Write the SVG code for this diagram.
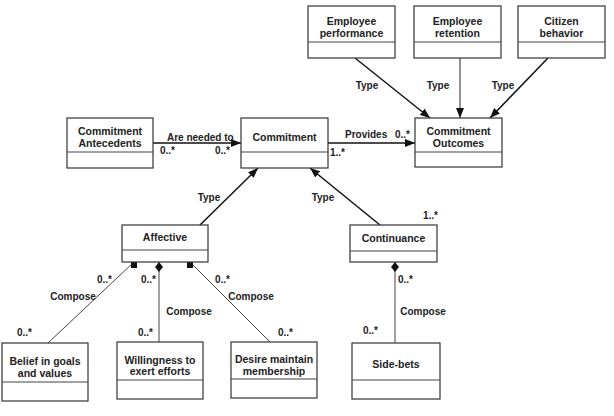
<svg xmlns="http://www.w3.org/2000/svg" width="614" height="416" viewBox="0 0 614 416">
<style>
.box{fill:#fff;stroke:#333;stroke-width:1.2}
.div{stroke:#444;stroke-width:1}
text{font-family:"Liberation Sans",Arial,sans-serif;font-weight:bold;font-size:10.5px;fill:#222}
.t{text-anchor:middle}
.lab{font-size:10px}
.arr{stroke:#111;stroke-width:1.5;fill:none}
.thin{stroke:#222;stroke-width:1;fill:none}
.comp{stroke:#444;stroke-width:1;fill:none}
</style>
<defs>
<marker id="ah" viewBox="0 0 10 8" refX="10" refY="4" markerWidth="10" markerHeight="8" markerUnits="userSpaceOnUse" orient="auto"><path d="M0,0L10,4L0,8Z" fill="#111"/></marker>
<marker id="sq" viewBox="0 0 6 6" refX="3" refY="0" markerWidth="6" markerHeight="6" markerUnits="userSpaceOnUse" orient="0"><rect width="6" height="6" fill="#111"/></marker>
<marker id="dm" viewBox="0 0 8 10" refX="4" refY="0" markerWidth="8" markerHeight="10" markerUnits="userSpaceOnUse" orient="0"><path d="M4,0L8,5L4,10L0,5Z" fill="#111"/></marker>
</defs>
<rect width="614" height="416" fill="#fff"/>
<g id="connectors">
<line class="arr" x1="153" y1="143" x2="241" y2="143" marker-end="url(#ah)"/>
<line class="arr" x1="328" y1="143" x2="415" y2="143" marker-end="url(#ah)"/>
<line class="arr" x1="355" y1="58" x2="430" y2="118" marker-end="url(#ah)"/>
<line class="thin" x1="460" y1="58" x2="460" y2="118" marker-end="url(#ah)"/>
<line class="arr" x1="548" y1="58" x2="490" y2="118" marker-end="url(#ah)"/>
<line class="arr" x1="200" y1="225" x2="258" y2="168" marker-end="url(#ah)"/>
<line class="arr" x1="380" y1="225" x2="310" y2="168" marker-end="url(#ah)"/>
<line class="comp" x1="134" y1="262" x2="48" y2="343" marker-start="url(#sq)"/>
<line class="comp" x1="159" y1="262" x2="159" y2="342" marker-start="url(#dm)"/>
<line class="comp" x1="190" y1="262" x2="270" y2="342" marker-start="url(#sq)"/>
<line class="comp" x1="395" y1="262" x2="395" y2="343" marker-start="url(#dm)"/>
<text x="167" y="141" class="lab">Are needed to</text>
<text x="160" y="154" class="lab">0..*</text>
<text x="215" y="154" class="lab">0..*</text>
<text x="345" y="138" class="lab">Provides</text>
<text x="395" y="138" class="lab">0..*</text>
<text x="330" y="156" class="lab">1..*</text>
<text x="367" y="89" class="t lab">Type</text>
<text x="438" y="89" class="t lab">Type</text>
<text x="503" y="89" class="t lab">Type</text>
<text x="209" y="201" class="t lab">Type</text>
<text x="323" y="201" class="t lab">Type</text>
<text x="423" y="219" class="lab">1..*</text>
<text x="97" y="283" class="lab">0..*</text>
<text x="141" y="283" class="lab">0..*</text>
<text x="215" y="283" class="lab">0..*</text>
<text x="73" y="300" class="t lab">Compose</text>
<text x="189" y="315" class="t lab">Compose</text>
<text x="251" y="300" class="t lab">Compose</text>
<text x="17" y="336" class="lab">0..*</text>
<text x="138" y="336" class="lab">0..*</text>
<text x="278" y="336" class="lab">0..*</text>
<text x="398" y="283" class="lab">0..*</text>
<text x="423" y="315" class="t lab">Compose</text>
<text x="363" y="334" class="lab">0..*</text>
</g>
<g id="emp-perf"><rect class="box" x="308" y="6" width="87" height="52"/><line class="div" x1="308" y1="42" x2="395" y2="42"/><text x="351.5" y="25" class="t">Employee</text><text x="351.5" y="37" class="t">performance</text></g>
<g id="emp-ret"><rect class="box" x="414" y="6" width="87" height="52"/><line class="div" x1="414" y1="42" x2="501" y2="42"/><text x="457.5" y="25" class="t">Employee</text><text x="457.5" y="37" class="t">retention</text></g>
<g id="citizen"><rect class="box" x="518" y="6" width="87" height="52"/><line class="div" x1="518" y1="42" x2="605" y2="42"/><text x="561.5" y="25" class="t">Citizen</text><text x="561.5" y="37" class="t">behavior</text></g>
<g id="outcomes"><rect class="box" x="415" y="118" width="87" height="49"/><line class="div" x1="415" y1="152" x2="502" y2="152"/><text x="458.5" y="135" class="t">Commitment</text><text x="458.5" y="147" class="t">Outcomes</text></g>
<g id="commitment"><rect class="box" x="241" y="118" width="87" height="50"/><line class="div" x1="241" y1="152" x2="328" y2="152"/><text x="284.5" y="141" class="t">Commitment</text></g>
<g id="antecedents"><rect class="box" x="67" y="118" width="86" height="50"/><line class="div" x1="67" y1="152" x2="153" y2="152"/><text x="110" y="135" class="t">Commitment</text><text x="110" y="147" class="t">Antecedents</text></g>
<g id="affective"><rect class="box" x="122" y="225" width="86" height="37"/><line class="div" x1="122" y1="250" x2="208" y2="250"/><text x="165" y="241" class="t">Affective</text></g>
<g id="continuance"><rect class="box" x="350" y="225" width="87" height="37"/><line class="div" x1="350" y1="251" x2="437" y2="251"/><text x="393.5" y="242" class="t">Continuance</text></g>
<g id="sidebets"><rect class="box" x="352" y="343" width="88" height="56"/><line class="div" x1="352" y1="380" x2="440" y2="380"/><text x="396" y="368" class="t">Side-bets</text></g>
<g id="belief"><rect class="box" x="2" y="343" width="86" height="58"/><line class="div" x1="2" y1="382" x2="88" y2="382"/><text x="45" y="365" class="t">Belief in goals</text><text x="45" y="377" class="t">and values</text></g>
<g id="willingness"><rect class="box" x="117" y="342" width="86" height="57"/><line class="div" x1="117" y1="380" x2="203" y2="380"/><text x="160" y="364" class="t">Willingness to</text><text x="160" y="375" class="t">exert efforts</text></g>
<g id="desire"><rect class="box" x="231" y="342" width="86" height="56"/><line class="div" x1="231" y1="379" x2="317" y2="379"/><text x="274" y="363" class="t">Desire maintain</text><text x="274" y="375" class="t">membership</text></g>
</svg>
